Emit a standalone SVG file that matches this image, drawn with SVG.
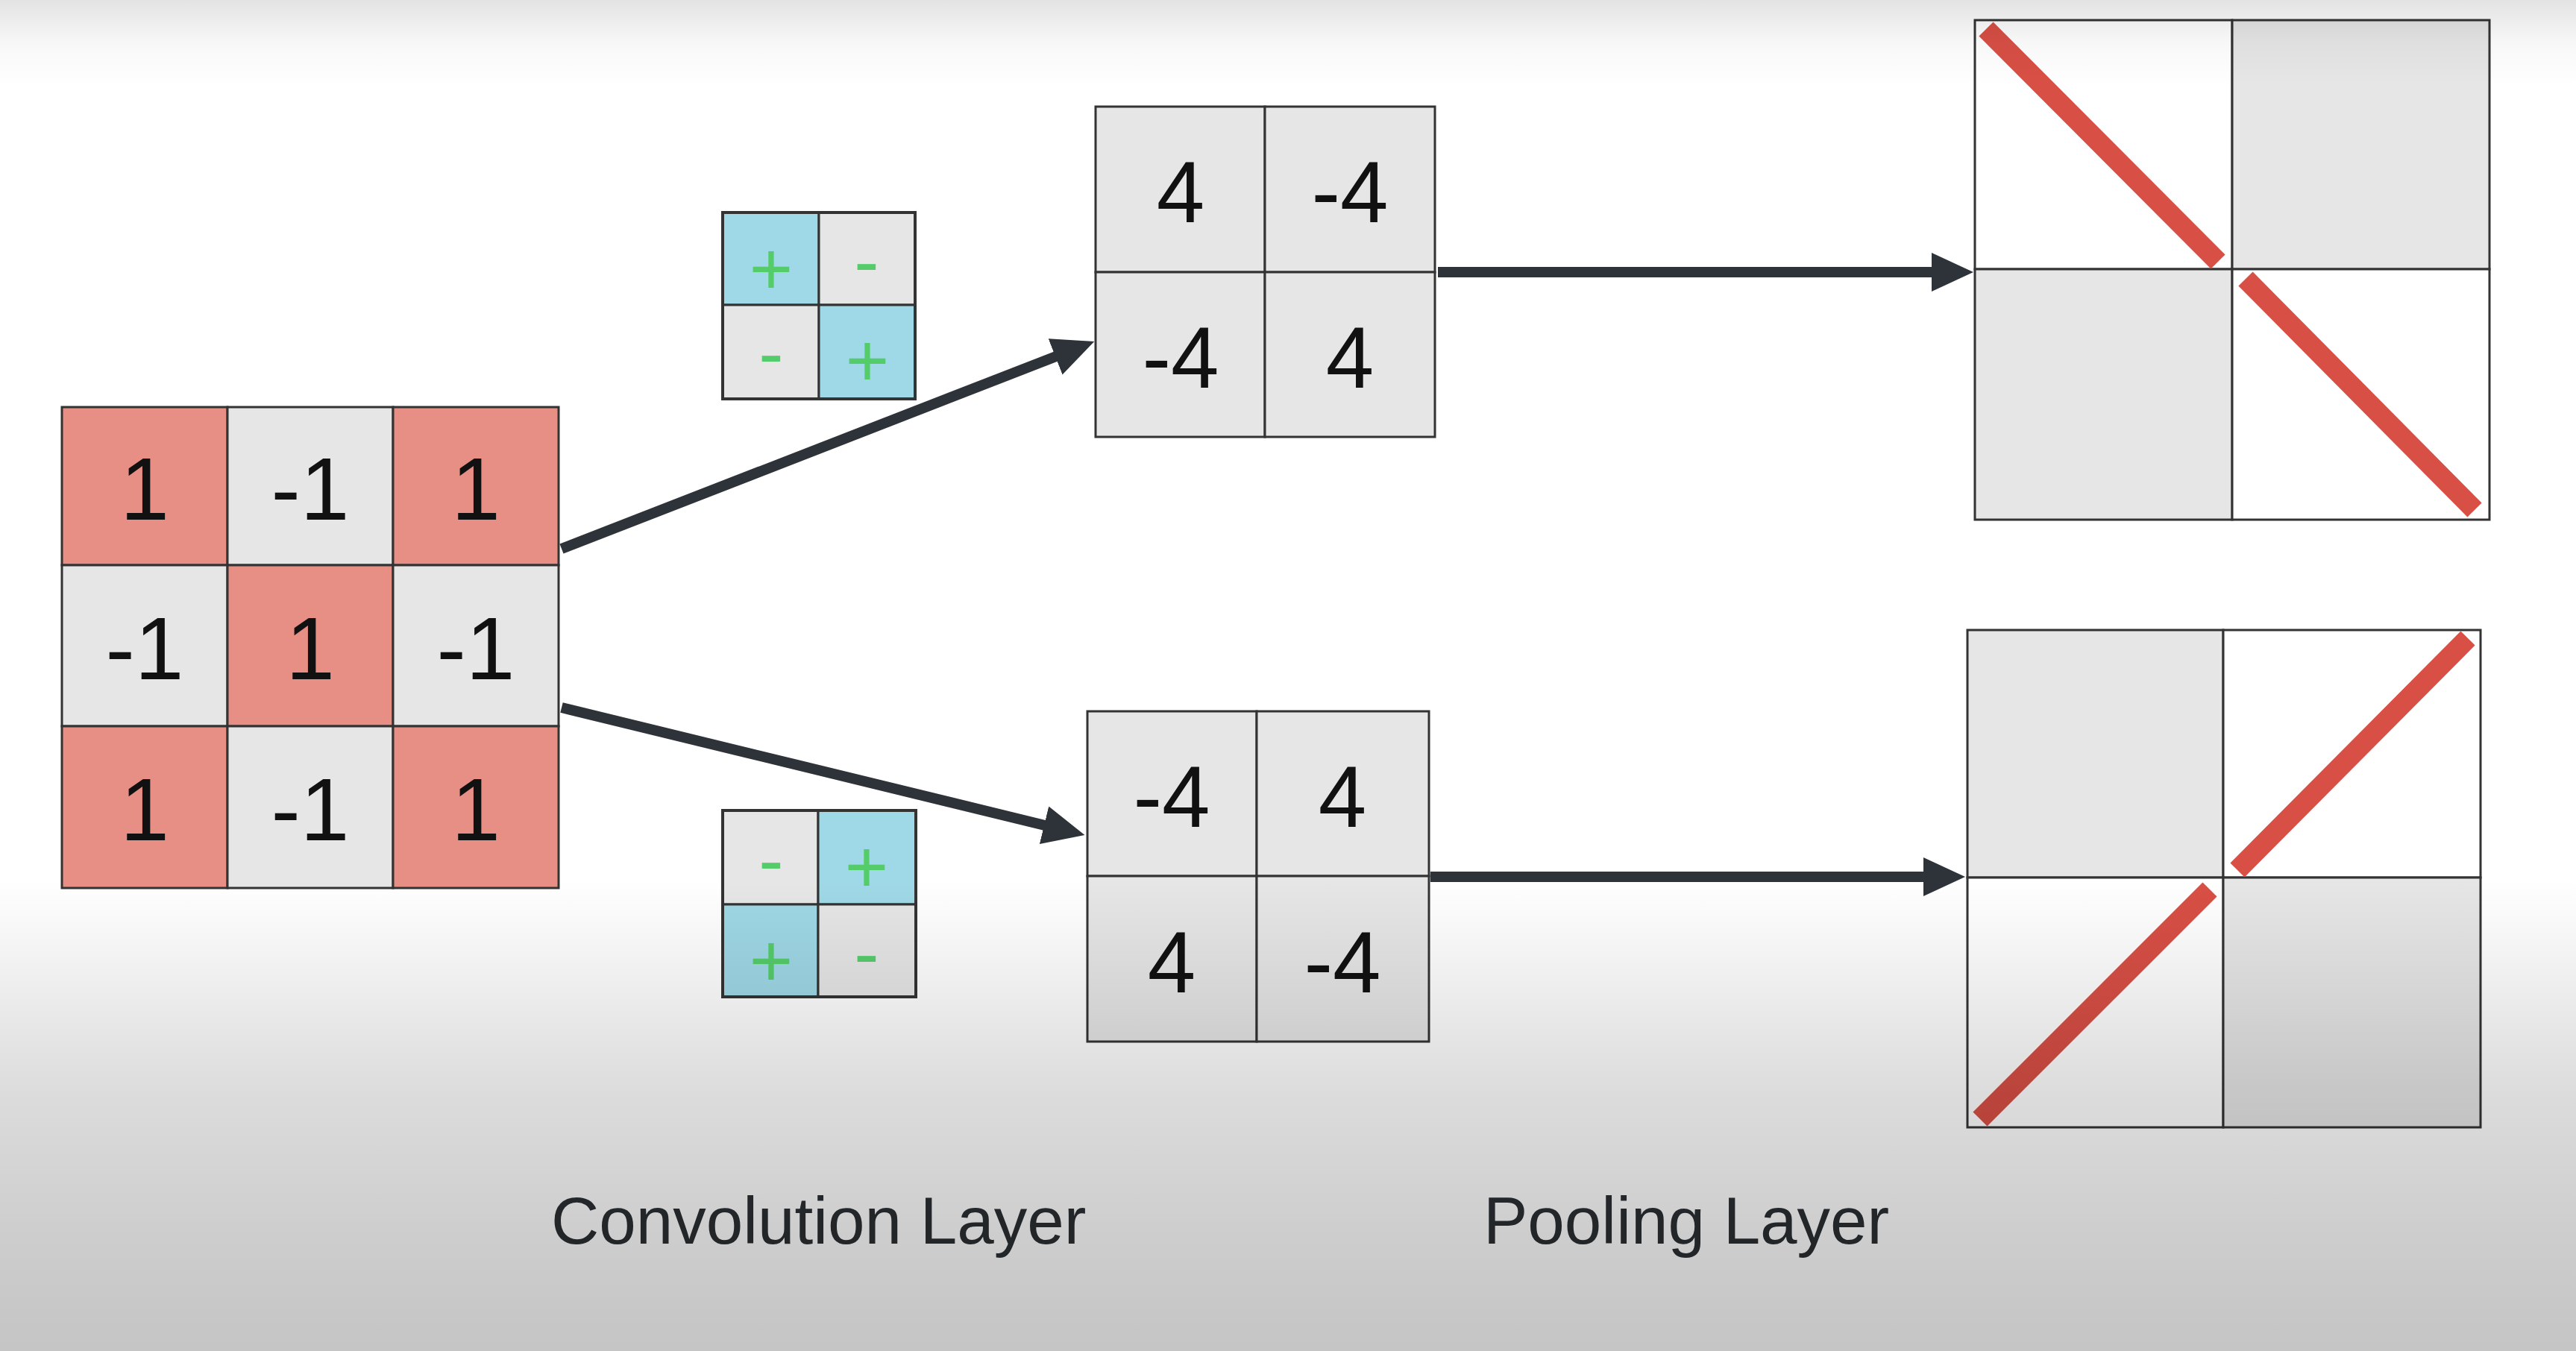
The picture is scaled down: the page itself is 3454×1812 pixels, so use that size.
<svg xmlns="http://www.w3.org/2000/svg" width="3454" height="1812" viewBox="0 0 3454 1812">
<defs>
<style>
.c{stroke:#333;stroke-width:3}
.pk{fill:#e78f85}
.gr{fill:#e6e6e6}
.wh{fill:#ffffff}
.bl{fill:#9fd8e6}
.num{font-family:"Liberation Sans",Arial,sans-serif;fill:#111;text-anchor:middle}
.n1{font-size:118px}
.n4{font-size:116px}
.sg{font-family:"Liberation Sans",Arial,sans-serif;font-size:100px;fill:#55cc6a;text-anchor:middle}
.kb{fill:none;stroke:#333;stroke-width:4}
.arr{stroke:#2d3339;stroke-width:14;fill:none}
.red{stroke:#d84f45;stroke-width:27;fill:none}
.lbl{font-family:"Liberation Sans",Arial,sans-serif;font-size:89px;fill:#2b2f33}
</style>
<marker id="ah" markerUnits="userSpaceOnUse" markerWidth="56" markerHeight="52" refX="1" refY="26" orient="auto" viewBox="0 0 56 52">
<path d="M0,0 L56,26 L0,52 Z" fill="#2d3339"/>
</marker>
<linearGradient id="topg" x1="0" y1="0" x2="0" y2="1">
<stop offset="0" stop-color="#000" stop-opacity="0.11"/>
<stop offset="0.5" stop-color="#000" stop-opacity="0.03"/>
<stop offset="1" stop-color="#000" stop-opacity="0"/>
</linearGradient>
<linearGradient id="botg" x1="0" y1="0" x2="0" y2="1">
<stop offset="0" stop-color="#000" stop-opacity="0"/>
<stop offset="0.2" stop-color="#000" stop-opacity="0.06"/>
<stop offset="0.45" stop-color="#000" stop-opacity="0.137"/>
<stop offset="0.75" stop-color="#000" stop-opacity="0.195"/>
<stop offset="1" stop-color="#000" stop-opacity="0.23"/>
</linearGradient>
</defs>
<rect x="0" y="0" width="3454" height="1812" fill="#ffffff"/>

<g id="input-grid">
<rect class="c pk" x="83" y="546" width="222" height="212"/>
<rect class="c gr" x="305" y="546" width="222" height="212"/>
<rect class="c pk" x="527" y="546" width="222" height="212"/>
<rect class="c gr" x="83" y="758" width="222" height="216"/>
<rect class="c pk" x="305" y="758" width="222" height="216"/>
<rect class="c gr" x="527" y="758" width="222" height="216"/>
<rect class="c pk" x="83" y="974" width="222" height="217"/>
<rect class="c gr" x="305" y="974" width="222" height="217"/>
<rect class="c pk" x="527" y="974" width="222" height="217"/>
<text class="num n1" x="194" y="697">1</text>
<text class="num n1" x="416" y="697">-1</text>
<text class="num n1" x="638" y="697">1</text>
<text class="num n1" x="194" y="911">-1</text>
<text class="num n1" x="416" y="911">1</text>
<text class="num n1" x="638" y="911">-1</text>
<text class="num n1" x="194" y="1127">1</text>
<text class="num n1" x="416" y="1127">-1</text>
<text class="num n1" x="638" y="1127">1</text>
</g>

<g id="kernel-1">
<rect class="c bl" x="969" y="285" width="129" height="124"/>
<rect class="c gr" x="1098" y="285" width="129" height="124"/>
<rect class="c gr" x="969" y="409" width="129" height="126"/>
<rect class="c bl" x="1098" y="409" width="129" height="126"/>
<rect class="kb" x="969" y="285" width="258" height="250"/>
<text class="sg" x="1034" y="395">+</text>
<text class="sg" x="1162" y="385">-</text>
<text class="sg" x="1034" y="508">-</text>
<text class="sg" x="1163" y="518">+</text>
</g>

<g id="kernel-2">
<rect class="c gr" x="969" y="1087" width="128" height="126"/>
<rect class="c bl" x="1097" y="1087" width="131" height="126"/>
<rect class="c bl" x="969" y="1213" width="128" height="124"/>
<rect class="c gr" x="1097" y="1213" width="131" height="124"/>
<rect class="kb" x="969" y="1087" width="259" height="250"/>
<text class="sg" x="1034" y="1188">-</text>
<text class="sg" x="1162" y="1197">+</text>
<text class="sg" x="1034" y="1323">+</text>
<text class="sg" x="1162" y="1313">-</text>
</g>

<g id="conv-output-1">
<rect class="c gr" x="1469" y="143" width="227" height="222"/>
<rect class="c gr" x="1696" y="143" width="228" height="222"/>
<rect class="c gr" x="1469" y="365" width="227" height="221"/>
<rect class="c gr" x="1696" y="365" width="228" height="221"/>
<text class="num n4" x="1583" y="298">4</text>
<text class="num n4" x="1810" y="298">-4</text>
<text class="num n4" x="1583" y="520">-4</text>
<text class="num n4" x="1810" y="520">4</text>
</g>

<g id="conv-output-2">
<rect class="c gr" x="1458" y="954" width="227" height="221"/>
<rect class="c gr" x="1685" y="954" width="231" height="221"/>
<rect class="c gr" x="1458" y="1175" width="227" height="222"/>
<rect class="c gr" x="1685" y="1175" width="231" height="222"/>
<text class="num n4" x="1571" y="1109">-4</text>
<text class="num n4" x="1800" y="1109">4</text>
<text class="num n4" x="1571" y="1331">4</text>
<text class="num n4" x="1800" y="1331">-4</text>
</g>

<g id="pool-output-1">
<rect class="c wh" x="2648" y="27" width="345" height="334"/>
<rect class="c gr" x="2993" y="27" width="345" height="334"/>
<rect class="c gr" x="2648" y="361" width="345" height="336"/>
<rect class="c wh" x="2993" y="361" width="345" height="336"/>
<line class="red" x1="2663" y1="39" x2="2974" y2="351"/>
<line class="red" x1="3011" y1="374" x2="3318" y2="684"/>
</g>

<g id="pool-output-2">
<rect class="c gr" x="2638" y="845" width="343" height="332"/>
<rect class="c wh" x="2981" y="845" width="345" height="332"/>
<rect class="c wh" x="2638" y="1177" width="343" height="335"/>
<rect class="c gr" x="2981" y="1177" width="345" height="335"/>
<line class="red" x1="3309" y1="856" x2="3000" y2="1167"/>
<line class="red" x1="2963" y1="1193" x2="2655" y2="1501"/>
</g>

<g id="connectors">
<path class="arr" d="M753,736 L1416,478" marker-end="url(#ah)"/>
<path class="arr" d="M753,949 L1401,1107" marker-end="url(#ah)"/>
<path class="arr" d="M1928,365 L2591,365" marker-end="url(#ah)"/>
<path class="arr" d="M1918,1176 L2580,1176" marker-end="url(#ah)"/>
</g>

<g id="labels">
<text class="lbl" x="739" y="1668">Convolution Layer</text>
<text class="lbl" x="1989" y="1668">Pooling Layer</text>
</g>

<rect x="0" y="0" width="3454" height="115" fill="url(#topg)"/>
<rect x="0" y="1180" width="3454" height="632" fill="url(#botg)"/>
</svg>
